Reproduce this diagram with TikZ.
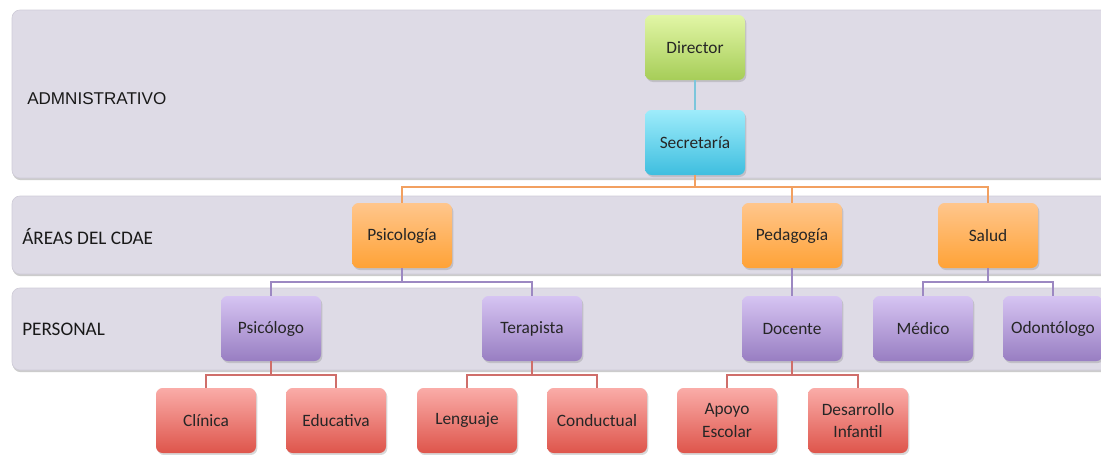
\documentclass[tikz,border=0pt]{standalone}
\usepackage{fontspec}
\setmainfont{Carlito}
\newfontfamily\arialfont{Liberation Sans}
\usetikzlibrary{shadows}
\definecolor{bandgray}{HTML}{DEDBE6}
\definecolor{bandedge}{HTML}{CFCCD8}
\definecolor{greentop}{HTML}{E2F6A6}
\definecolor{greenbot}{HTML}{A6CD58}
\definecolor{cyantop}{HTML}{9EECFB}
\definecolor{cyanbot}{HTML}{3EBEDF}
\definecolor{orangetop}{HTML}{FFC68C}
\definecolor{orangebot}{HTML}{FFA236}
\definecolor{purpletop}{HTML}{D6C4F2}
\definecolor{purplebot}{HTML}{987EC2}
\definecolor{redtop}{HTML}{FAACA8}
\definecolor{redbot}{HTML}{DE554B}
\definecolor{cyanline}{HTML}{7CC6DC}
\definecolor{orangeline}{HTML}{F2A060}
\definecolor{purpleline}{HTML}{9C88C2}
\definecolor{redline}{HTML}{CF6E6A}

\begin{document}
\begin{tikzpicture}[x=0.75pt, y=-0.75pt,
    band/.style={fill=bandgray, draw=bandedge, line width=0.5pt, rounded corners=6pt,
      drop shadow={shadow xshift=0.5pt, shadow yshift=-1.6pt, opacity=0.4}},
    bandtxt/.style={anchor=west, inner sep=0pt, text=black!90},
    box/.style={rectangle, rounded corners=5pt, minimum width=75pt, minimum height=48.75pt,
      inner sep=1pt, outer sep=0pt, align=center, text=black!85,
      font=\fontsize{13}{17}\selectfont,
      drop shadow={shadow xshift=1pt, shadow yshift=-1.5pt, opacity=0.3}},
    dirbox/.style={box, top color=greentop, bottom color=greenbot},
    secbox/.style={box, top color=cyantop, bottom color=cyanbot},
    areabox/.style={box, top color=orangetop, bottom color=orangebot},
    persbox/.style={box, top color=purpletop, bottom color=purplebot},
    subbox/.style={box, top color=redtop, bottom color=redbot},
    link/.style={line width=1.1pt}]

    \useasboundingbox (0,0) rectangle (1101,454);
    \fill[white] (0,0) rectangle (1101,454);

    % franjas
    \path[band] (12,10) rectangle (1112,178);
    \path[band] (12,196) rectangle (1112,274);
    \path[band] (12,288) rectangle (1112,370);
    \node[bandtxt, font=\arialfont\fontsize{12.8}{14}\selectfont] (adm) at (27,99) {ADMNISTRATIVO};
    \node[bandtxt, font=\fontsize{14.4}{15}\selectfont] (areas) at (22,237) {ÁREAS DEL CDAE};
    \node[bandtxt, font=\fontsize{14.4}{15}\selectfont] (pers) at (22,329) {PERSONAL};

    % cajas
    \node[dirbox] (Dir) at (695,47.5) {Director};
    \node[secbox] (Sec) at (695,142.5) {Secretaría};
    \node[areabox] (Psi) at (402,235.5) {Psicología};
    \node[areabox] (Ped) at (792,235.5) {Pedagogía};
    \node[areabox] (Sal) at (988,235.5) {Salud};
    \node[persbox] (Psl) at (271,328.5) {Psicólogo};
    \node[persbox] (Ter) at (532,328.5) {Terapista};
    \node[persbox] (Doc) at (792,328.5) {Docente};
    \node[persbox] (Med) at (923,328.5) {Médico};
    \node[persbox] (Odo) at (1053,328.5) {Odontólogo};
    \node[subbox] (Cli) at (206,420.5) {Clínica};
    \node[subbox] (Edu) at (336,420.5) {Educativa};
    \node[subbox] (Len) at (467,420.5) {Lenguaje};
    \node[subbox] (Con) at (597,420.5) {Conductual};
    \node[subbox] (Apo) at (727,420.5) {Apoyo\\Escolar};
    \node[subbox] (Des) at (858,420.5) {Desarrollo\\Infantil};

    % conectores
    \draw[link, cyanline] (Dir) -- (Sec);
    \foreach \n in {Psi,Ped,Sal}
      \draw[link, orangeline] (Sec.south) -- ++(0,12) -| (\n.north);
    \foreach \a/\b in {Psi/Psl,Psi/Ter,Ped/Doc,Sal/Med,Sal/Odo}
      \draw[link, purpleline] (\a.south) -- ++(0,14) -| (\b.north);
    \foreach \a/\b in {Psl/Cli,Psl/Edu,Ter/Len,Ter/Con,Doc/Apo,Doc/Des}
      \draw[link, redline] (\a.south) -- ++(0,14) -| (\b.north);
\end{tikzpicture}
\end{document}
